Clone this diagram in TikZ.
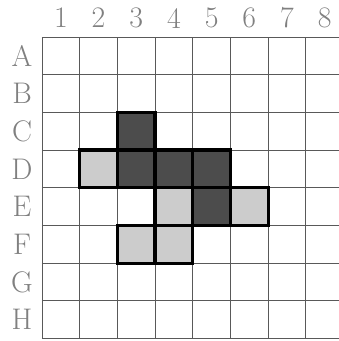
\documentclass[tikz,border=0pt]{standalone}
\begin{document}
\begin{tikzpicture}[x=1cm,y=1cm,
  gridline/.style={draw=black!65,line width=0.6pt},
  lbl/.style={text=black!50,font=\fontsize{22.5}{26}\selectfont,inner sep=0pt},
  darkcell/.style={fill=black!70,draw=black,line width=2.4pt},
  lightcell/.style={fill=black!20,draw=black,line width=2.4pt}]
\useasboundingbox (-1.114,-0.066) rectangle (7.878,8.98);
\clip (-1.114,-0.066) rectangle (7.878,8.98);
\draw[gridline] (0,0) grid (8,8);
\foreach \n in {1,...,8} \node[lbl] (c\n) at (\n-0.5,8.5) {\n};
\foreach \l [count=\i] in {A,B,C,D,E,F,G,H} \node[lbl] (r\l) at (-0.53,8.5-\i) {\l};
% dark cells: C3, D3, D4, D5, E5
\foreach \c/\r in {3/3,3/4,4/4,5/4,5/5}
  \draw[darkcell] (\c-1,8-\r) rectangle (\c,9-\r);
% light cells: D2, E4, E6, F3, F4
\foreach \c/\r in {2/4,4/5,6/5,3/6,4/6}
  \draw[lightcell] (\c-1,8-\r) rectangle (\c,9-\r);
\end{tikzpicture}
\end{document}
